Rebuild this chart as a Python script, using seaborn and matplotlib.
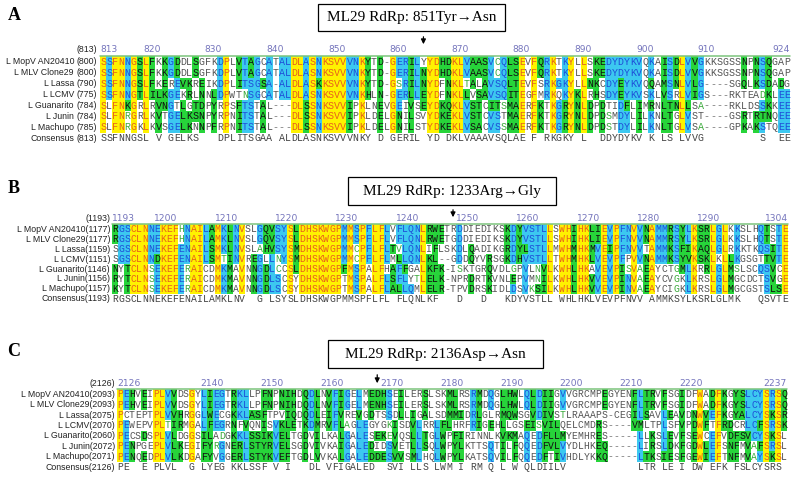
import numpy as np
import pandas as pd
import seaborn as sns
import matplotlib
matplotlib.use("Agg")
import matplotlib.pyplot as plt
from matplotlib.colors import ListedColormap
from matplotlib.patches import Rectangle, FancyArrowPatch
from matplotlib.transforms import blended_transform_factory
from collections import Counter

# ---------------- data ----------------
row_names = ["L MopV AN20410", "L MLV Clone29", "L Lassa", "L LCMV",
             "L Guanarito", "L Junin", "L Machupo", "Consensus"]

# Panel A
a_title = "ML29 RdRp: 851Tyr\u2192Asn"
a_start, a_end = 813, 924
a_ticks = [813, 820, 830, 840, 850, 860, 870, 880, 890, 900, 910, 924]
a_arrow = 865
a_offsets = ["(800)", "(800)", "(790)", "(775)", "(784)", "(784)", "(785)", "(813)"]
a_seqs = [
    "SSFNNGSLFKKGDDLSGFKDPLVTAGCATALDLASNKSVVVNKYTD-GERILYYDHDKLVAASVCQLSEVFQRKTKYLLSKEDYDYKVQKAISDLVVGKKSGSSNPNSQGAP",
    "SSFNNGSLFKKGDDLSGFKDPLVTAGCATALDLASNKSVVVNKYTD-GERILNYDHDKLVAASVCQLSEVFQRKTKYLLSKEDYDYKVQKAISDLVVGKKSGSSNPNSQGAP",
    "SSFNNGSLFKEREVKREIKDPLITSGSA-ALDLASKKSVVVNKYTD-GSRILNYDFNKLTALAVSQLTEVFSRKGKYLLNKCDYEYKVQQAMSNLVLG----SGQLKSDADG",
    "SSFNNGTLILKGEKRLNNLDPWTNSGCATALDLASNKSVVVNKHLN-GERLLEYDFNKLLVSAVSQITEGFMRKQKYKLRHSDYEYKVSKLVSRLVIGS---RKTEADKLEE",
    "SLFNKGRLRVNGTLGTDPYRPSFTSTAL---DLSSNKSVVIPKLNEVGEIVSEYDKQKLVSTCITSMAERFKTKGRYNLDPDTIDFLIMRNLTNLLSA----RKLDSSKKEE",
    "SLFNRGRLKVTGELKSNPYRPNITSTAL---DLSSNKSVVIPKLDELGNILSVYDKEKLVSTCVSTMAERFKTKGRYNLDPDSMDYLILKNLTGLVST----GSRTRTNQEE",
    "SLFNRGKLKVSGELKNNPFRPNITSTAL---DLSSNKSVVIPKLDELGNILSTYDKEKLVSACVSSMAERFKTKGRYNLDPDSTDYLILKNLTGLVSA----GPKAKSTQEE",
]
a_cons = "SSFNNGSL V GELKS   DPLITSGAA ALDLASNKSVVVNKY D GERIL YD DKLVAAAVSQLAE F RKGKY L  DDYDYKV K LS LVVG         S  EE"

# Panel B
b_title = "ML29 RdRp: 1233Arg\u2192Gly"
b_start, b_end = 1193, 1304
b_ticks = [1193, 1200, 1210, 1220, 1230, 1240, 1250, 1260, 1270, 1280, 1290, 1304]
b_arrow = 1249
b_offsets = ["(1177)", "(1177)", "(1159)", "(1151)", "(1146)", "(1156)", "(1157)", "(1193)"]
b_seqs = [
    "RGSCLNNEKEFHNAILAMKLNVSLGQVSYSLDHSKWGPMMSPFLFLVFLQNLRWETRDDIEDIKSKDYVSTLLSWHIHKLIEVPFNVVNAMMRSYLKSRLGLKKSLHQTSTE",
    "RGSCLNNEKEFHNAILAMKLNVSLGQVSYSLDHSKWGPMMSPFLFLVFLQNLRWETGDDIEDIKSKDYVSTLLSWHIHKLIEVPFNVVNAMMRSYLKSRLGLKKSLHQTSTE",
    "SGSCLNNEKEFENAILSMKLNVSLAHVSYSMDHSKWGPMMCPFLFLTVLQNLIFLSKDLQADIKGRDYLSTLLMWHMHKMVEIPFNVVTAMMKSFIKAQLGLRKKTKQSITE",
    "SGSCLNNDKEFENAILSMTINVREGLLNYSMDHSKWGPMMCPFLFLMLLQNLKL--GDDQYVRSGKDHVSTLLTWHMHKLVEVPFPVVNAMMKSYVKSKLKLLKGSGTTVTE",
    "NYTCLNSEKEFERAICDMKMAVNNGDLCCSLDHSKWGPFMSPALFHAFFGALKFK-ISKTGRQVDLGPVLNVLKWHLHKAVEVPISVAEAYCTGMLKRRLGLMSLSCQSVCE",
    "RYTCLNSEKEFERAICDMKMAVNNGDLSCSYDHSKWGPTMSPALFLSFLYTLELK-NPRDRTKVNLEPVMNILKWHLHKVVEVPINVAEAYCVGKLKRSLGLMGCDCTSVGE",
    "KYTCLNSEKEFERAICDMKMAVNNGDLSCSYDHSKWGPTMSPALFLALLQMLELR-TPVDRSKIDLDSVKSILKWHLHKVVEVPINVAEAYCIGKLKRSLGLMGCGSTSLSE",
]
b_cons = "RGSCLNNEKEFENAILAMKLNV  G LSYSLDHSKWGPMMSPFLFL FLQNLKF   D   D   KDYVSTLL WHLHKLVEVPFNVV AMMKSYLKSRLGLMK   QSVTE"

# Panel C
c_title = "ML29 RdRp: 2136Asp\u2192Asn"
c_start, c_end = 2126, 2237
c_ticks = [2126, 2140, 2150, 2160, 2170, 2180, 2190, 2200, 2210, 2220, 2237]
c_arrow = 2169
c_offsets = ["(2093)", "(2093)", "(2075)", "(2070)", "(2060)", "(2072)", "(2071)", "(2126)"]
c_seqs = [
    "PEHVEIPLVVDSGYLIEGTRKLLPFNPNIHDQDLNVFIGELMEDHSEILERSLSKMLRSRMDQGLHWLQLDIIGVVGRCMPEGYENFLTRVFSGIDFWADFKGYSLCYSRSQ",
    "PEHVEIPLVVDSGYLIEGTRKLLPFNPNIHDQDLNVFIGELMENHSEILERSLSKMLRSRMDQGLHWLQLDIIGVVGRCMPEGYENFLTRVFSGIDFWADFKGYSLCYSRSQ",
    "PCTEPTPLVVHRGGLWECGKKLASFTPVIQDQDLEIFVREVGDTSSDLLIGALSDMMIDRLGLRMQWSGVDIVSTLRAAAPS-CEGILSAVLEAVDNWVEFKGYALCYSKSR",
    "PEWEPVPLTIRMGALFEGRNFVQNISVKLETKDMRVFLAGLEGYGKISDVLRRLFLHRFRIGEHLLGSEISVILQELCMDRS----VMLTPLSFVPDWFTFRDCRLCFSRSK",
    "PECSDSPLVLDGGSILADGKKLSSIKVELTGDVILKALGALESEKEVQSLLTGLWPFIRINNLKVKMAQEDFLLMYEMHRES-----LLKSLEVFSEWCEFVDFSVCYSKSL",
    "PENPGEPLVLKEGIFYRGNERLSTYRVELSGDVIVKAIGALEDIDSVETLLSQLWPYLKTTSQTILFQQEDFVLVYDLHKEQ-----LIRSLDKFGDWLEFSNFMVAFSRSL",
    "PENQEDPLVLKDGAFYVGGERLSTYKVEFTGDLVVKALGALEDDESVVSMLHQLWPYLKATSQVILFQQEDFTIVHDLYKKQ-----LTKSIESFGEWIEFTNFMVAYSKSL",
]
c_cons = "PE  E PLVL  G LYEG KKLSSF V I   DL VFIGALED  SVI LLS LWM I RM Q L W QLDIILV            LTR LE I DW EFK FSLCYSRS "

# ---------------- styling ----------------
W, H = 800, 494
NCOL = 112
BG = ["#FFFFFF", "#FFF200", "#3CC8F0", "#27D43A"]
CLASS_IDX = {"W": 0, "Y": 1, "C": 2, "G": 3, "g": 0, "K": 0, "-": 0}
FG = {"W": "#555555", "Y": "#E8601C", "C": "#1F4FD8", "G": "#111111",
      "g": "#3BAA3B", "K": "#444444", "-": "#777777"}
STRONG = ["STA", "NEQK", "NHQK", "NDEQ", "QHRK", "MILV", "MILF", "HY", "FYW"]
WEAK = ["CSA", "ATV", "SAG", "STNK", "STPA", "SGND", "SNDEQK", "NDEQHK",
        "NEQHRK", "FVLIM", "HFY"]


def sim(a, b, groups):
    return any(a in g and b in g for g in groups)


def classify(seqs):
    n = NCOL
    out = [["W"] * n for _ in seqs]
    for j in range(n):
        col = [s[j] for s in seqs]
        for i, r in enumerate(col):
            if r == "-":
                out[i][j] = "-"
        res = [c for c in col if c != "-"]
        if not res:
            continue
        cnt = Counter(res)
        c, k = cnt.most_common(1)[0]
        if k == len(col):
            for i in range(len(col)):
                out[i][j] = "Y"
            continue
        if k >= 4:
            for i, r in enumerate(col):
                if r == "-":
                    continue
                if r == c:
                    out[i][j] = "C"
                elif sim(r, c, STRONG):
                    out[i][j] = "G"
                elif sim(r, c, WEAK):
                    out[i][j] = "g"
        else:
            best = max(sorted(set(res)),
                       key=lambda r0: sum(1 for r in res if r == r0 or sim(r, r0, STRONG)))
            mem = [i for i, r in enumerate(col)
                   if r != "-" and (r == best or sim(r, best, STRONG))]
            if len(mem) >= 4:
                for i in mem:
                    out[i][j] = "G"
    return out


sns.set_theme(style="white")
plt.rcParams["font.family"] = ["DejaVu Sans"]
fig = plt.figure(figsize=(8, 4.94), dpi=100)

LABEL_FONT = ["Liberation Sans", "DejaVu Sans"]
LABEL_SIZE = 6.3
SERIF = ["Liberation Serif", "DejaVu Serif"]


def fy(ypx):
    return 1 - ypx / H


def panel(letter, letter_y, title, box, arrow_y, seqs, cons, start, end, ticks,
          arrow_pos, offsets, x0, x1, ytop, rowh, header_y, label_mode, label_right,
          fsize):
    seqs = [s.ljust(NCOL)[:NCOL] for s in seqs]
    cons = cons.ljust(NCOL)[:NCOL]
    classes = classify(seqs) + [["K"] * NCOL]
    nrows = len(classes)
    codes = pd.DataFrame([[CLASS_IDX[c] for c in r] for r in classes])
    letters = np.array([list(s) for s in seqs] + [list(cons)], dtype=object)
    ax = fig.add_axes([x0 / W, fy(ytop + nrows * rowh), (x1 - x0) / W, nrows * rowh / H])
    sns.heatmap(codes, cmap=ListedColormap(BG), vmin=-0.5, vmax=3.5, cbar=False,
                annot=letters, fmt="", linewidths=0,
                annot_kws=dict(family="Liberation Mono", fontsize=fsize),
                xticklabels=False, yticklabels=False, ax=ax)
    for t in ax.texts:
        x, y = t.get_position()
        i, j = int(y), int(x)
        t.set_color(FG[classes[i][j]])
    ax.set_xlim(0, NCOL)
    ax.set_ylim(nrows, 0)
    ax.axis("off")
    # top line
    ax.plot([0, NCOL], [0, 0], color="#7CC47C", lw=1.1, clip_on=False, zorder=5)
    # header numbers
    tr = blended_transform_factory(ax.transData, fig.transFigure)
    for tk in ticks:
        col = tk - start
        if tk == end:
            xx, ha = NCOL, "right"
        else:
            xx, ha = col, "left"
        ax.text(xx, fy(header_y), str(tk), transform=tr, ha=ha, va="center",
                fontsize=6.6, color="#7474BC", family="DejaVu Sans")
    # row labels
    trl = blended_transform_factory(fig.transFigure, ax.transData)
    fig.text(label_right / W, fy(header_y), offsets[-1], ha="right", va="center",
             fontsize=LABEL_SIZE, family=LABEL_FONT, color="#222222")
    for i, nm in enumerate(row_names):
        if label_mode == "split":
            fig.text(74 / W, i + 0.5, nm, transform=trl, ha="right", va="center",
                     fontsize=LABEL_SIZE, family=LABEL_FONT, color="#222222")
            fig.text(label_right / W, i + 0.5, offsets[i], transform=trl, ha="right",
                     va="center", fontsize=LABEL_SIZE, family=LABEL_FONT,
                     color="#222222")
        else:
            fig.text(label_right / W, i + 0.5, nm + offsets[i], transform=trl,
                     ha="right", va="center", fontsize=LABEL_SIZE, family=LABEL_FONT,
                     color="#222222")
    # arrow
    ac = arrow_pos - start + 0.5
    arr = FancyArrowPatch((ac, fy(arrow_y[0])), (ac, fy(arrow_y[1])), transform=tr,
                          arrowstyle="-|>", mutation_scale=7, lw=0.9, color="black")
    fig.add_artist(arr)
    # title box
    bx0, by0, bx1, by1 = box
    fig.add_artist(Rectangle((bx0 / W, fy(by1)), (bx1 - bx0) / W, (by1 - by0) / H,
                             transform=fig.transFigure, facecolor="white",
                             edgecolor="black", lw=0.9))
    fig.text((bx0 + bx1) / 2 / W, fy((by0 + by1) / 2 + 0.5), title, ha="center",
             va="center", fontsize=11, family=SERIF, color="black")
    fig.text(14 / W, fy(letter_y), letter, ha="center", va="center", fontsize=13,
             fontweight="bold", family=SERIF, color="black")


panel("A", 16, a_title, (318, 4, 505, 31), (34, 47), a_seqs, a_cons, a_start, a_end,
      a_ticks, a_arrow, a_offsets, 100, 790, 56.5, 10.9, 50, "split", 97, 7.2)
panel("B", 188, b_title, (348, 177, 556, 205), (207, 220), b_seqs, b_cons, b_start,
      b_end, b_ticks, b_arrow, b_offsets, 112, 788, 224.5, 9.9, 218, "joined", 110, 7.0)
panel("C", 351, c_title, (328, 340, 543, 368), (372, 386), c_seqs, c_cons, c_start,
      c_end, c_ticks, c_arrow, c_offsets, 117, 787, 389, 10.4, 383, "joined", 115, 7.0)

fig.savefig("out.png", dpi=100)
